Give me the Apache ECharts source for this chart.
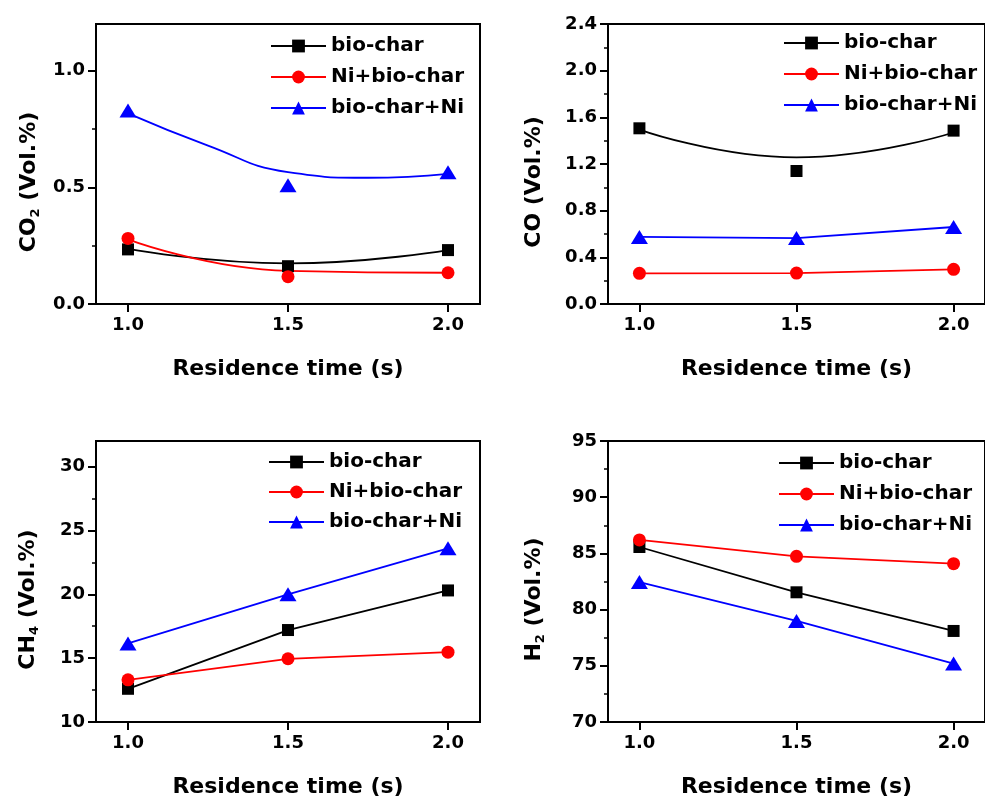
<!DOCTYPE html>
<html>
<head>
<meta charset="utf-8">
<title>Gas composition vs residence time</title>
<script src="https://cdn.jsdelivr.net/npm/echarts@6/dist/echarts.min.js"></script>
<style>
  html, body { margin: 0; padding: 0; background: #ffffff; }
  #main { width: 985px; height: 799px; }
</style>
</head>
<body>
<div id="main"></div>
<script>
var FONT = "DejaVu Sans";

// shared x values
var times = [1.0, 1.5, 2.0];
var fitTimes = [1.0, 1.25, 1.5, 1.75, 2.0];
var xTicks = [1.0, 1.5, 2.0];
var names = ["bio-char", "Ni+bio-char", "bio-char+Ni"];

// CO2 (Vol.%)
var co2BioChar = [0.234, 0.162, 0.231];
var co2NiBioChar = [0.281, 0.117, 0.134];
var co2BioCharNi = [0.829, 0.509, 0.565];
// fitted curves drawn in the CO2 panel
var co2FitBioChar = [0.236, 0.174, 0.231];
var co2FitNiBioChar = [0.277, 0.142, 0.134];
var co2FitBioCharNi = [0.817, 0.679, 0.565, 0.541, 0.558]; // at fitTimes
var co2Ticks = [0, 0.5, 1.0];

// CO (Vol.%)
var coBioChar = [1.506, 1.14, 1.486];
var coNiBioChar = [0.263, 0.265, 0.297];
var coBioCharNi = [0.575, 0.565, 0.66];
var coFitBioChar = [1.495, 1.257, 1.47];
var coTicks = [0, 0.4, 0.8, 1.2, 1.6, 2.0, 2.4];

// CH4 (Vol.%)
var ch4BioChar = [12.6, 17.2, 20.3];
var ch4NiBioChar = [13.3, 14.95, 15.47];
var ch4BioCharNi = [16.15, 20.0, 23.6];
var ch4Ticks = [10, 15, 20, 25, 30];

// H2 (Vol.%)
var h2BioChar = [85.57, 81.54, 78.1];
var h2NiBioChar = [86.2, 84.74, 84.09];
var h2BioCharNi = [82.45, 78.99, 75.2];
var h2Ticks = [70, 75, 80, 85, 90, 95];

var colors = ["#000000", "#ff0000", "#0000ff"];
var symbols = ["rect", "circle", "triangle"];
var symbolSizes = [12, 13, [17, 14]];

function pairs(xs, ys) {
  return xs.map(function (x, i) { return [x, ys[i]]; });
}

var grids = [
  { left: 96, top: 24, width: 384, height: 280 },
  { left: 608, top: 24, width: 384, height: 280 },
  { left: 96, top: 441, width: 384, height: 281 },
  { left: 608, top: 441, width: 384, height: 281 }
];

var textBase = { fontFamily: FONT, fontWeight: "bold", color: "#000" };

function xAxisFor(g) {
  return {
    type: "value",
    gridIndex: g,
    min: 0.9,
    max: 2.1,
    name: "Residence time (s)",
    nameLocation: "middle",
    nameGap: 54,
    nameTextStyle: Object.assign({ fontSize: 22 }, textBase),
    axisLine: { show: true, onZero: false, lineStyle: { color: "#000", width: 2 } },
    axisTick: { show: true, customValues: xTicks, length: 8, lineStyle: { color: "#000", width: 2 } },
    axisLabel: Object.assign({
      customValues: xTicks, margin: 12, fontSize: 18,
      formatter: function (v) { return v.toFixed(1); }
    }, textBase),
    splitLine: { show: false }
  };
}

function yAxisFor(g, min, max, interval, ticks, digits, nameRich, gap) {
  return {
    type: "value",
    gridIndex: g,
    min: min,
    max: max,
    interval: interval,
    name: nameRich,
    nameLocation: "middle",
    nameGap: gap,
    nameTextStyle: {
      padding: [0, 36, 0, 0],
      rich: {
        b: Object.assign({ fontSize: 22 }, textBase),
        s: Object.assign({ fontSize: 13, verticalAlign: "bottom", padding: [0, 0, -2, 0] }, textBase)
      }
    },
    axisLine: { show: true, onZero: false, lineStyle: { color: "#000", width: 2 } },
    axisTick: { show: true, customValues: ticks, length: 8, lineStyle: { color: "#000", width: 2 } },
    minorTick: { show: true, splitNumber: 2, length: 4, lineStyle: { color: "#000", width: 1.5 } },
    axisLabel: Object.assign({
      customValues: ticks, margin: 11, fontSize: 18,
      formatter: function (v) { return v.toFixed(digits); }
    }, textBase),
    splitLine: { show: false }
  };
}

function lineSeries(g, k, data, smooth, showSym) {
  return {
    type: "line",
    name: names[k],
    xAxisIndex: g,
    yAxisIndex: g,
    data: data,
    smooth: smooth,
    symbol: symbols[k],
    symbolSize: symbolSizes[k],
    showSymbol: showSym,
    itemStyle: { color: colors[k], opacity: 1 },
    lineStyle: { color: colors[k], width: 1.8 },
    z: 3
  };
}

function pointSeries(g, k, data) {
  return {
    type: "scatter",
    name: names[k],
    xAxisIndex: g,
    yAxisIndex: g,
    data: data,
    symbol: symbols[k],
    symbolSize: symbolSizes[k],
    itemStyle: { color: colors[k], opacity: 1 },
    z: 4
  };
}

function legendFor(left, top, gap) {
  return {
    orient: "vertical",
    left: left,
    top: top,
    itemWidth: 55,
    itemHeight: 16,
    itemGap: gap,
    data: names,
    textStyle: Object.assign({ fontSize: 20 }, textBase)
  };
}

var series = [];
// panel 0: CO2, fitted curves + measured points
series.push(lineSeries(0, 0, pairs(times, co2FitBioChar), 0.5, false));
series.push(lineSeries(0, 1, pairs(times, co2FitNiBioChar), 0.5, false));
series.push(lineSeries(0, 2, pairs(fitTimes, co2FitBioCharNi), 0.5, false));
series.push(pointSeries(0, 0, pairs(times, co2BioChar)));
series.push(pointSeries(0, 1, pairs(times, co2NiBioChar)));
series.push(pointSeries(0, 2, pairs(times, co2BioCharNi)));
// panel 1: CO
series.push(lineSeries(1, 0, pairs(times, coFitBioChar), 0.5, false));
series.push(pointSeries(1, 0, pairs(times, coBioChar)));
series.push(lineSeries(1, 1, pairs(times, coNiBioChar), false, true));
series.push(lineSeries(1, 2, pairs(times, coBioCharNi), false, true));
// panel 2: CH4
series.push(lineSeries(2, 0, pairs(times, ch4BioChar), false, true));
series.push(lineSeries(2, 1, pairs(times, ch4NiBioChar), false, true));
series.push(lineSeries(2, 2, pairs(times, ch4BioCharNi), false, true));
// panel 3: H2
series.push(lineSeries(3, 0, pairs(times, h2BioChar), false, true));
series.push(lineSeries(3, 1, pairs(times, h2NiBioChar), false, true));
series.push(lineSeries(3, 2, pairs(times, h2BioCharNi), false, true));

var option = {
  backgroundColor: "#ffffff",
  animation: false,
  grid: grids.map(function (g) {
    return Object.assign({ show: true, borderColor: "#000", borderWidth: 2, containLabel: false }, g);
  }),
  xAxis: [xAxisFor(0), xAxisFor(1), xAxisFor(2), xAxisFor(3)],
  yAxis: [
    yAxisFor(0, 0, 1.2, 0.5, co2Ticks, 1, "{b|CO}{s|2}{b| (Vol.%)}", 56),
    yAxisFor(1, 0, 2.4, 0.4, coTicks, 1, "{b|CO (Vol.%)}", 63),
    yAxisFor(2, 10, 32, 5, ch4Ticks, 0, "{b|CH}{s|4}{b| (Vol.%)}", 57),
    yAxisFor(3, 70, 95, 5, h2Ticks, 0, "{b|H}{s|2}{b| (Vol.%)}", 63)
  ],
  legend: [
    legendFor(265, 31, 11),
    legendFor(778, 28, 11),
    legendFor(263, 447, 10),
    legendFor(773, 448, 11)
  ],
  series: series
};

var chart = echarts.init(document.getElementById("main"));
chart.setOption(option);
</script>
</body>
</html>
